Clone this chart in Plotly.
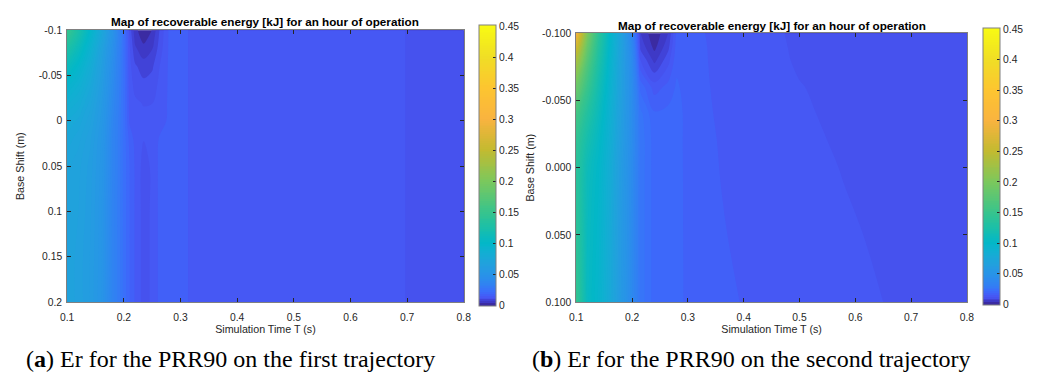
import plotly.graph_objects as go

# ---------------- data ----------------
T_A = [0.10, 0.12, 0.14, 0.16, 0.18, 0.20, 0.21, 0.22, 0.235, 0.25, 0.265,
       0.28, 0.30, 0.32, 0.45, 0.60, 0.69, 0.71, 0.80]
SHIFT_A = [-0.10, -0.09, -0.08, -0.06, -0.04, -0.02, 0.00, 0.02, 0.05, 0.10, 0.15, 0.20]
ER_A = [
    [0.1505, 0.125, 0.100, 0.075, 0.050, 0.022, 0.011, 0.0041, 0.0005, 0.0031, 0.0101, 0.0155, 0.0160, 0.0145, 0.0135, 0.0135, 0.0125, 0.0110, 0.0105],
    [0.140, 0.118, 0.095, 0.072, 0.048, 0.023, 0.0121, 0.005, 0.0020, 0.0045, 0.0105, 0.0155, 0.0160, 0.0145, 0.0135, 0.0135, 0.0125, 0.0110, 0.0105],
    [0.128, 0.110, 0.090, 0.068, 0.046, 0.023, 0.0125, 0.0065, 0.0040, 0.0058, 0.0110, 0.0155, 0.0160, 0.0145, 0.0135, 0.0135, 0.0125, 0.0110, 0.0105],
    [0.110, 0.097, 0.082, 0.064, 0.043, 0.023, 0.0130, 0.0095, 0.0075, 0.0085, 0.0125, 0.0155, 0.0160, 0.0145, 0.0135, 0.0135, 0.0125, 0.0110, 0.0105],
    [0.095, 0.087, 0.076, 0.061, 0.041, 0.023, 0.0135, 0.0110, 0.0098, 0.0105, 0.0130, 0.0155, 0.0160, 0.0145, 0.0135, 0.0135, 0.0125, 0.0110, 0.0105],
    [0.085, 0.080, 0.071, 0.058, 0.039, 0.023, 0.0140, 0.0125, 0.0118, 0.0119, 0.0135, 0.0155, 0.0160, 0.0145, 0.0135, 0.0135, 0.0125, 0.0110, 0.0105],
    [0.078, 0.074, 0.067, 0.056, 0.037, 0.023, 0.0145, 0.0130, 0.0128, 0.0130, 0.0140, 0.0155, 0.0160, 0.0145, 0.0135, 0.0135, 0.0125, 0.0110, 0.0105],
    [0.074, 0.070, 0.064, 0.054, 0.036, 0.023, 0.0170, 0.0140, 0.0121, 0.0135, 0.0155, 0.0160, 0.0160, 0.0145, 0.0135, 0.0135, 0.0125, 0.0110, 0.0105],
    [0.070, 0.067, 0.062, 0.053, 0.036, 0.023, 0.0181, 0.0145, 0.0108, 0.0125, 0.0162, 0.0165, 0.0160, 0.0145, 0.0135, 0.0135, 0.0125, 0.0110, 0.0105],
    [0.069, 0.066, 0.061, 0.052, 0.035, 0.023, 0.0181, 0.0145, 0.0108, 0.0125, 0.0162, 0.0165, 0.0160, 0.0145, 0.0135, 0.0135, 0.0125, 0.0110, 0.0105],
    [0.068, 0.065, 0.060, 0.052, 0.035, 0.023, 0.0181, 0.0145, 0.0108, 0.0125, 0.0162, 0.0165, 0.0160, 0.0145, 0.0135, 0.0135, 0.0125, 0.0110, 0.0105],
    [0.068, 0.065, 0.060, 0.051, 0.035, 0.023, 0.0181, 0.0145, 0.0108, 0.0125, 0.0162, 0.0165, 0.0160, 0.0145, 0.0135, 0.0135, 0.0125, 0.0110, 0.0105],
]

T_B = [0.10, 0.12, 0.14, 0.16, 0.18, 0.20, 0.215, 0.24, 0.265, 0.28, 0.30,
       0.32, 0.36, 0.42, 0.50, 0.58, 0.66, 0.80]
SHIFT_B = [-0.10, -0.09, -0.08, -0.06, -0.04, -0.02, 0.00, 0.05, 0.10]
ER_B = [
    [0.2995, 0.200, 0.140, 0.100, 0.068, 0.035, 0.0061, 0.0005, 0.0061, 0.0160, 0.0165, 0.0153, 0.0142, 0.0130, 0.0115, 0.0108, 0.0104, 0.0100],
    [0.265, 0.185, 0.134, 0.098, 0.068, 0.038, 0.0081, 0.0020, 0.0081, 0.0165, 0.0165, 0.0154, 0.0143, 0.0131, 0.0116, 0.0109, 0.0105, 0.0100],
    [0.235, 0.172, 0.128, 0.096, 0.067, 0.040, 0.0121, 0.0050, 0.0110, 0.0170, 0.0165, 0.0154, 0.0144, 0.0132, 0.0117, 0.0110, 0.0106, 0.0101],
    [0.190, 0.1505, 0.118, 0.092, 0.066, 0.042, 0.0200, 0.0135, 0.0160, 0.0185, 0.0166, 0.0155, 0.0145, 0.0134, 0.0121, 0.0113, 0.0108, 0.0102],
    [0.160, 0.132, 0.110, 0.088, 0.064, 0.042, 0.0250, 0.0185, 0.0190, 0.0195, 0.0167, 0.0157, 0.0146, 0.0135, 0.0123, 0.0115, 0.0109, 0.0103],
    [0.145, 0.120, 0.104, 0.085, 0.062, 0.042, 0.0260, 0.0195, 0.0195, 0.0195, 0.0167, 0.0158, 0.0148, 0.0137, 0.0125, 0.0117, 0.0110, 0.0104],
    [0.140, 0.112, 0.100, 0.082, 0.060, 0.041, 0.0260, 0.0195, 0.0195, 0.0195, 0.0168, 0.0159, 0.0149, 0.0138, 0.0127, 0.0119, 0.0112, 0.0105],
    [0.142, 0.108, 0.097, 0.079, 0.058, 0.040, 0.0260, 0.0195, 0.0195, 0.0195, 0.0169, 0.0162, 0.0152, 0.0141, 0.0131, 0.0123, 0.0116, 0.0108],
    [0.148, 0.106, 0.095, 0.077, 0.057, 0.039, 0.0260, 0.0195, 0.0195, 0.0195, 0.0170, 0.0165, 0.0156, 0.0145, 0.0135, 0.0127, 0.0119, 0.0112],
]

X_TICKS = [0.1, 0.2, 0.3, 0.4, 0.5, 0.6, 0.7, 0.8]
X_TICK_TEXT = ["0.1", "0.2", "0.3", "0.4", "0.5", "0.6", "0.7", "0.8"]
Y_TICKS_A = [-0.1, -0.05, 0, 0.05, 0.1, 0.15, 0.2]
Y_TICK_TEXT_A = ["-0.1", "-0.05", "0", "0.05", "0.1", "0.15", "0.2"]
Y_TICKS_B = [-0.1, -0.05, 0, 0.05, 0.1]
Y_TICK_TEXT_B = ["-0.100", "-0.050", "0.000", "0.050", "0.100"]
CB_TICKS = [0, 0.05, 0.1, 0.15, 0.2, 0.25, 0.3, 0.35, 0.4, 0.45]
CB_TICK_TEXT = ["0", "0.05", "0.1", "0.15", "0.2", "0.25", "0.3", "0.35", "0.4", "0.45"]

TITLE = "Map of recoverable energy [kJ] for an hour of operation"
X_TITLE = "Simulation Time T (s)"
Y_TITLE = "Base Shift (m)"
CAPTION_A = "(<b>a</b>) Er for the PRR90 on the first trajectory"
CAPTION_B = "(<b>b</b>) Er for the PRR90 on the second trajectory"

# ---------------- style ----------------
W, H = 1043, 381
LEV_START, LEV_END, LEV_SIZE = 0.0, 0.45, 0.003

# parula-like colours keyed by energy value
CS_VALUES = [0.0, 0.0015, 0.0045, 0.0075, 0.0105, 0.0135, 0.0165, 0.0195, 0.0225,
             0.030, 0.045, 0.065, 0.085, 0.100, 0.125, 0.150, 0.200, 0.250,
             0.300, 0.350, 0.400, 0.450]
CS_COLORS = ["#3A2A9E", "#3B2BA2", "#3E39C6", "#4143D8", "#4652EE", "#4658F4",
             "#4160F8", "#3D68FA", "#3A6FFA", "#327EF4", "#2A90EA", "#22A0DE",
             "#12AFD2", "#03B7C8", "#1BBFA8", "#38C48C", "#7CC85C", "#C3BA30",
             "#F9B33F", "#FDC530", "#F0DE25", "#F8FA13"]

n_lev = int(round((LEV_END - LEV_START) / LEV_SIZE)) + 1
lo = LEV_START - LEV_SIZE / 2
hi = LEV_START + (n_lev - 0.5) * LEV_SIZE
colorscale = []
for v, c in zip(CS_VALUES, CS_COLORS):
    f = min(max((v - lo) / (hi - lo), 0.0), 1.0)
    colorscale.append([f, c])
colorscale[0][0] = 0.0
colorscale.append([1.0, CS_COLORS[-1]])

TXT = "#262626"
LINE = "#808080"
FONT = "Liberation Sans"
TICK_SIZE = 10.3
LABEL_SIZE = 10.7
TITLE_SIZE = 11.7
CAPTION_SIZE = 24


def px_x(p):
    return p / W


def px_y(p):
    return 1 - p / H


AX_A = dict(x0=61, x1=463, y0=26, y1=306)
AX_B = dict(x0=577, x1=973, y0=29, y1=306)
CB_A = dict(x=478, y0=25, y1=306)
CB_B = dict(x=989, y0=28, y1=305)


def colorbar(cb):
    return dict(
        x=px_x(cb["x"]), xanchor="left", xpad=0,
        y=px_y((cb["y0"] + cb["y1"]) / 2), yanchor="middle", ypad=0,
        len=cb["y1"] - cb["y0"], lenmode="pixels",
        thickness=17, thicknessmode="pixels",
        outlinecolor=LINE, outlinewidth=1,
        tickvals=CB_TICKS, ticktext=CB_TICK_TEXT,
        ticks="inside", ticklen=3, tickcolor=TXT,
        tickfont=dict(family=FONT, size=TICK_SIZE, color=TXT),
    )


fig = go.Figure()
for xs, ys, zs, xa, ya, cb in [(T_A, SHIFT_A, ER_A, "x", "y", CB_A),
                               (T_B, SHIFT_B, ER_B, "x2", "y2", CB_B)]:
    fig.add_trace(go.Contour(
        x=xs, y=ys, z=zs, xaxis=xa, yaxis=ya,
        colorscale=colorscale,
        contours=dict(start=LEV_START, end=LEV_END, size=LEV_SIZE,
                      coloring="fill", showlines=False),
        line=dict(width=0),
        colorbar=colorbar(cb),
        hoverinfo="skip",
    ))


def xaxis(ax, anchor):
    return dict(
        domain=[px_x(ax["x0"]), px_x(ax["x1"])], anchor=anchor,
        range=[0.1, 0.8], tickvals=X_TICKS, ticktext=X_TICK_TEXT,
        ticks="inside", ticklen=4, tickcolor=TXT, ticklabelstandoff=5,
        showline=True, linecolor=LINE, linewidth=1, mirror="ticks",
        showgrid=False, zeroline=False,
        tickfont=dict(family=FONT, size=TICK_SIZE, color=TXT),
        title=dict(text=X_TITLE, font=dict(family=FONT, size=LABEL_SIZE, color=TXT), standoff=3),
    )


def yaxis(ax, anchor, rng, tv, tt, standoff):
    return dict(
        domain=[px_y(ax["y1"]), px_y(ax["y0"])], anchor=anchor,
        range=rng, tickvals=tv, ticktext=tt,
        ticks="inside", ticklen=4, tickcolor=TXT, ticklabelstandoff=2,
        showline=True, linecolor=LINE, linewidth=1, mirror="ticks",
        showgrid=False, zeroline=False,
        tickfont=dict(family=FONT, size=TICK_SIZE, color=TXT),
        title=dict(text=Y_TITLE, font=dict(family=FONT, size=LABEL_SIZE, color=TXT), standoff=standoff),
    )


annotations = [
    dict(text="<b>" + TITLE + "</b>", x=px_x((AX_A["x0"] + AX_A["x1"]) / 2), y=px_y(17),
         xref="paper", yref="paper", xanchor="center", yanchor="middle", showarrow=False,
         font=dict(family=FONT, size=TITLE_SIZE, color="#000000")),
    dict(text="<b>" + TITLE + "</b>", x=px_x((AX_B["x0"] + AX_B["x1"]) / 2), y=px_y(21),
         xref="paper", yref="paper", xanchor="center", yanchor="middle", showarrow=False,
         font=dict(family=FONT, size=TITLE_SIZE, color="#000000")),
    dict(text=CAPTION_A, x=px_x(17), y=px_y(365), xref="paper", yref="paper",
         xanchor="left", yanchor="middle", showarrow=False,
         font=dict(family="Liberation Serif", size=CAPTION_SIZE, color="#000000")),
    dict(text=CAPTION_B, x=px_x(530), y=px_y(365), xref="paper", yref="paper",
         xanchor="left", yanchor="middle", showarrow=False,
         font=dict(family="Liberation Serif", size=CAPTION_SIZE, color="#000000")),
]

fig.update_layout(
    width=W, height=H, margin=dict(l=0, r=0, t=0, b=0),
    paper_bgcolor="white", plot_bgcolor="white",
    xaxis=xaxis(AX_A, "y"),
    yaxis=yaxis(AX_A, "x", [0.2, -0.1], Y_TICKS_A, Y_TICK_TEXT_A, 11),
    xaxis2=xaxis(AX_B, "y2"),
    yaxis2=yaxis(AX_B, "x2", [0.1, -0.1], Y_TICKS_B, Y_TICK_TEXT_B, 5),
    annotations=annotations,
    showlegend=False,
)

fig.write_html("out.html")
